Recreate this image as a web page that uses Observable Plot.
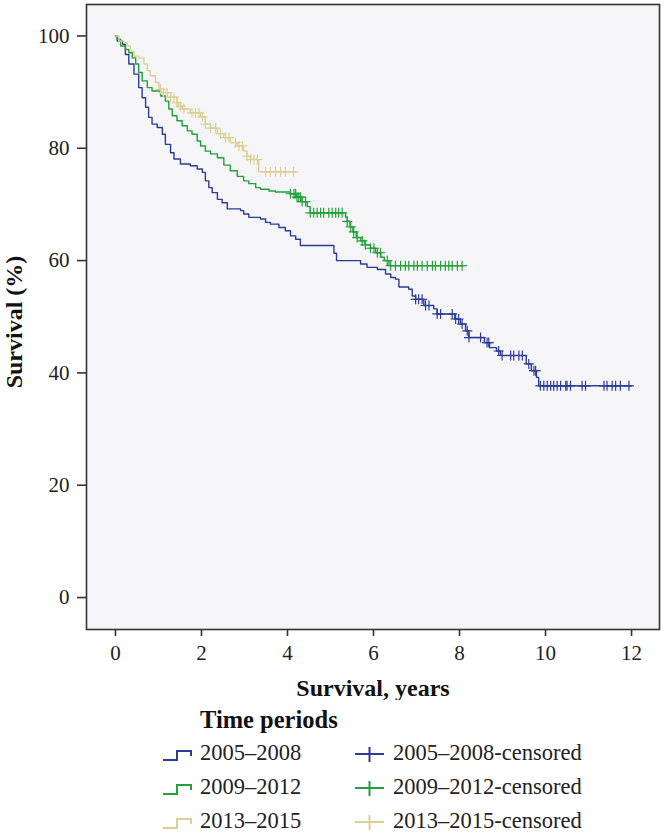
<!DOCTYPE html>
<html><head><meta charset="utf-8">
<script src="https://cdn.jsdelivr.net/npm/d3@7"></script>
<script src="https://cdn.jsdelivr.net/npm/@observablehq/plot@0.6"></script>
<style>
body{margin:0;background:#fff;}
#chart{width:664px;}
#legend{display:block;}
</style></head><body><div id="chart"></div>
<script>
// ---- data ----
const seriesNames = ["2005–2008", "2009–2012", "2013–2015"];
const seriesColors = ["#2e3b96", "#22a03a", "#dccf96"];
const xTicks = [0, 2, 4, 6, 8, 10, 12];
const yTicks = [0, 20, 40, 60, 80, 100];

// event times (years) and survival (%) after each event
const times0508 = [0.04,0.17,0.23,0.31,0.43,0.54,0.62,0.70,0.77,0.85,0.97,1.09,1.16,1.28,1.36,1.51,1.74,1.90,2.02,2.09,2.17,2.25,2.37,2.48,2.60,2.91,2.98,3.10,3.37,3.49,3.60,3.80,3.95,4.07,4.19,4.30,5.08,5.14,5.70,5.85,6.09,6.28,6.40,6.51,6.59,6.82,6.90,6.98,7.17,7.40,7.48,7.89,8.02,8.14,8.22,8.58,8.70,8.86,8.95,9.55,9.67,9.79,9.84];
const surv0508  = [99.1,98.5,96.7,95.0,93.2,90.8,89.0,87.3,85.5,84.3,83.7,82.5,80.7,79.2,78.1,77.2,76.9,76.3,75.7,74.2,73.0,72.1,70.9,70.3,69.2,68.9,68.3,67.7,67.4,66.8,66.5,65.9,65.3,64.4,63.8,62.7,61.3,60.0,59.4,58.8,58.4,57.6,57.0,56.7,55.3,54.9,53.7,53.1,52.0,51.4,50.5,49.6,48.7,47.5,46.3,45.4,44.5,43.9,43.1,41.6,40.4,39.2,37.7];
const end0508 = 12.0;
const cens0508 = [6.98,7.05,7.13,7.21,7.29,7.48,7.56,7.83,7.91,7.98,8.06,8.18,8.22,8.49,8.64,8.68,8.91,8.99,9.19,9.26,9.38,9.46,9.61,9.73,9.77,9.88,9.96,10.04,10.12,10.19,10.27,10.35,10.47,10.50,10.58,10.85,10.93,11.36,11.43,11.55,11.63,11.74,11.94];

const times0912 = [0.04,0.12,0.23,0.31,0.39,0.47,0.54,0.62,0.74,0.85,1.05,1.16,1.24,1.32,1.43,1.55,1.67,1.78,1.90,1.98,2.09,2.21,2.37,2.52,2.67,2.83,2.98,3.10,3.26,3.37,3.57,3.72,4.07,4.20,4.34,4.46,4.53,5.35,5.39,5.45,5.52,5.60,5.70,5.80,5.93,6.05,6.17,6.25,6.36];
const surv0912  = [99.4,98.2,97.6,97.0,96.1,95.0,93.5,92.0,90.8,90.2,89.3,88.4,87.0,85.8,84.9,84.0,83.1,82.5,81.3,80.4,79.5,79.0,78.3,77.0,76.0,75.0,74.2,73.7,73.0,72.7,72.4,72.2,71.9,71.3,70.5,69.6,68.5,67.7,67.0,66.0,65.1,64.1,63.5,62.8,62.2,61.4,60.6,60.0,59.1];
const end0912 = 8.1;
const cens0912 = [4.07,4.15,4.19,4.22,4.26,4.30,4.34,4.42,4.53,4.61,4.69,4.77,4.84,4.96,5.04,5.12,5.19,5.27,5.39,5.47,5.54,5.62,5.74,5.81,5.93,6.01,6.09,6.16,6.32,6.40,6.51,6.63,6.74,6.82,6.94,7.02,7.13,7.25,7.37,7.44,7.56,7.67,7.75,7.83,7.95,8.06];

const times1315 = [0.08,0.19,0.27,0.35,0.43,0.54,0.66,0.74,0.81,0.93,1.01,1.12,1.28,1.43,1.47,1.55,1.74,1.98,2.09,2.21,2.37,2.52,2.67,2.83,2.98,3.06,3.14,3.33];
const surv1315  = [99.1,98.8,98.2,97.3,96.4,96.1,95.0,93.8,92.9,91.7,90.5,89.9,89.1,88.1,87.5,87.0,86.3,85.6,84.3,83.6,82.6,81.9,81.0,80.4,79.5,78.6,78.0,75.8];
const end1315 = 4.2;
const cens1315 = [1.05,1.12,1.20,1.28,1.36,1.43,1.51,1.59,1.78,1.86,1.94,2.02,2.09,2.21,2.33,2.44,2.56,2.64,2.79,2.87,2.95,3.06,3.14,3.22,3.30,3.49,3.60,3.72,3.84,3.95,4.14];

// ---- build tables ----
const groups = [
  {name: seriesNames[0], times: times0508, surv: surv0508, end: end0508, cens: cens0508},
  {name: seriesNames[1], times: times0912, surv: surv0912, end: end0912, cens: cens0912},
  {name: seriesNames[2], times: times1315, surv: surv1315, end: end1315, cens: cens1315}
];
const curveRows = [];
const censRows = [];
for (const g of groups) {
  curveRows.push({t: 0, s: 100, series: g.name});
  g.times.forEach((t, i) => curveRows.push({t, s: g.surv[i], series: g.name}));
  curveRows.push({t: g.end, s: g.surv[g.surv.length - 1], series: g.name});
  const survAt = (t) => { let s = 100; g.times.forEach((tt, i) => { if (tt <= t) s = g.surv[i]; }); return s; };
  g.cens.forEach(t => censRows.push({t, s: survAt(t), series: g.name}));
}

const crossSymbol = {
  draw(ctx, size) {
    const r = Math.sqrt(size / Math.PI);
    ctx.moveTo(-r, 0); ctx.lineTo(r, 0);
    ctx.moveTo(0, -r); ctx.lineTo(0, r);
  }
};

const FONT = "'Liberation Serif', 'Times New Roman', serif";

const plot = Plot.plot({
  width: 664,
  height: 700,
  marginLeft: 86,
  marginRight: 5,
  marginTop: 4,
  marginBottom: 71,
  style: {fontFamily: FONT, fontSize: "21px", color: "#222", background: "transparent"},
  x: {domain: [-0.674, 12.65]},
  y: {domain: [-5.69, 105.6]},
  color: {domain: seriesNames, range: seriesColors},
  marks: [
    Plot.frame({fill: "#f5f5f7", stroke: "none"}),
    Plot.line(curveRows, {x: "t", y: "s", z: "series", stroke: "series", curve: "step-after", strokeWidth: 1.4}),
    Plot.dot(censRows, {x: "t", y: "s", stroke: "series", fill: "none", symbol: crossSymbol, r: 5, strokeWidth: 1.2}),
    Plot.frame({stroke: "#333", strokeWidth: 1.6}),
    Plot.axisY({ticks: yTicks, tickSize: 9, tickPadding: 8, label: null, fontSize: 21, stroke: "#333", strokeWidth: 1.6}),
    Plot.axisX({ticks: xTicks, tickSize: 7, tickPadding: 9, label: null, fontSize: 21, stroke: "#333", strokeWidth: 1.6}),
    Plot.text(["Survival, years"], {frameAnchor: "bottom", dy: 59, lineAnchor: "middle", textAnchor: "middle", fontWeight: "bold", fontSize: 24, fill: "#111"}),
    Plot.text(["Survival (%)"], {frameAnchor: "left", dx: -72, dy: 5, rotate: -90, lineAnchor: "middle", textAnchor: "middle", fontWeight: "bold", fontSize: 24, fill: "#111"})
  ]
});
document.getElementById("chart").appendChild(plot);

// ---- legend ----
const legend = d3.select("#chart").append("svg")
  .attr("id", "legend").attr("width", 664).attr("height", 134)
  .style("font-family", FONT).style("font-size", "22.5px");
legend.append("text").attr("x", 200).attr("y", 28).attr("font-weight", "bold").attr("font-size", "24.5px").attr("fill", "#111").text("Time periods");
seriesNames.forEach((name, i) => {
  const base = 60 + i * 34;
  const c = seriesColors[i];
  legend.append("path").attr("d", `M163,${base} H177 V${base - 9} H191 V${base - 4}`)
    .attr("fill", "none").attr("stroke", c).attr("stroke-width", 2);
  legend.append("text").attr("x", 200).attr("y", base).attr("fill", "#222").text(name);
  legend.append("path").attr("d", `M355,${base - 6} H384 M369.5,${base - 13} V${base + 2}`)
    .attr("fill", "none").attr("stroke", c).attr("stroke-width", 2);
  legend.append("text").attr("x", 393).attr("y", base).attr("fill", "#222").text(name + "-censored");
});
</script></body></html>
